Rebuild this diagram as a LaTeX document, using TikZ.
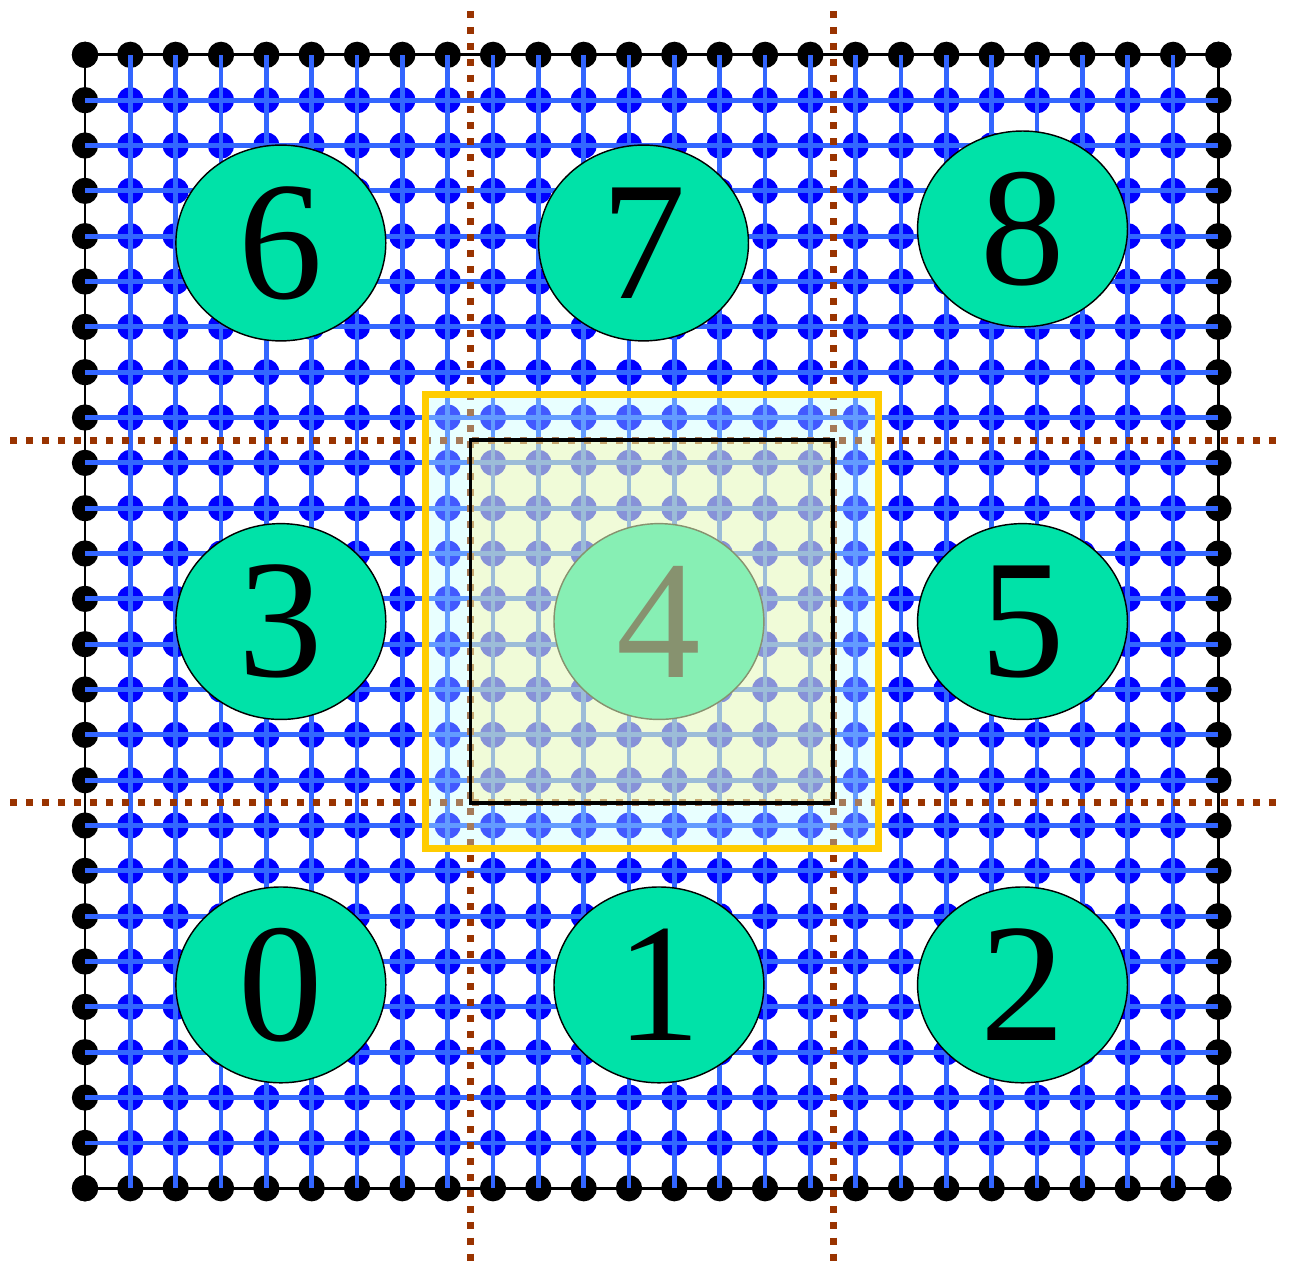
\documentclass[tikz,border=0pt]{standalone}
\usepackage{fontspec}
\setmainfont{Liberation Serif}
\newfontfamily\rankfont{Liberation Serif}
\usepackage{tikz}
\usetikzlibrary{shapes.geometric}
\definecolor{gridblue}{RGB}{51, 102, 255}
\definecolor{dotblue}{RGB}{0, 0, 255}
\definecolor{cutline}{RGB}{153, 51, 0}
\definecolor{rankfill}{RGB}{0, 226, 168}
\definecolor{halofill}{RGB}{190, 255, 255}
\definecolor{ownfill}{RGB}{255, 245, 150}
\definecolor{haloedge}{RGB}{255, 204, 0}

\begin{document}
\begin{tikzpicture}[
          gridline/.style={gridblue, line width=3pt},
          cut/.style={cutline, line width=4.4pt,
                      dash pattern=on 4.4pt off 5.6pt},
          rank/.style={ellipse, draw=black, line width=0.9pt,
                       fill=rankfill, inner sep=0pt,
                       minimum width=4.63cm, minimum height=4.32cm,
                       font=\rankfont\fontsize{106pt}{106pt}\selectfont},
      ]
      \useasboundingbox (-1.875, -1.69) rectangle (26.58, 26.21);
      \foreach \i in {0,...,25}
          \foreach \j in {0,...,25}
              \coordinate (p-\i-\j) at (\i, \j);
      \draw[line width=1.8pt] (p-0-0) rectangle (p-25-25);
      \foreach \i in {1,...,24}
          \foreach \j in {1,...,24}
              \fill[dotblue] (p-\i-\j) circle (0.29);
      \foreach \k in {0,...,25} {
          \fill (p-\k-0) circle (0.29);
          \fill (p-\k-25) circle (0.29);
          \fill (p-0-\k) circle (0.29);
          \fill (p-25-\k) circle (0.29);
      }
      \foreach \k in {1,...,24} {
          \draw[gridline] (p-\k-0) -- (p-\k-25);
          \draw[gridline] (p-0-\k) -- (p-25-\k);
      }
      \coordinate (v1a) at (8.5, 25.97);
      \coordinate (v1b) at (8.5, -1.75);
      \coordinate (v2a) at (16.5, 25.97);
      \coordinate (v2b) at (16.5, -1.75);
      \coordinate (h1a) at (-1.65, 16.5);
      \coordinate (h1b) at (26.35, 16.5);
      \coordinate (h2a) at (-1.65, 8.5);
      \coordinate (h2b) at (26.35, 8.5);
      \draw[cut] (v1a) -- (v1b);
      \draw[cut] (v2a) -- (v2b);
      \draw[cut] (h1a) -- (h1b);
      \draw[cut] (h2a) -- (h2b);
      \node[rank] (r0) at (4.32, 4.485) {0};
      \node[rank] (r1) at (12.66, 4.485) {1};
      \node[rank] (r2) at (20.68, 4.485) {2};
      \node[rank] (r3) at (4.32, 12.5) {3};
      \node[rank] (r4) at (12.66, 12.5) {4};
      \node[rank] (r5) at (20.68, 12.5) {5};
      \node[rank] (r6) at (4.32, 20.85) {6};
      \node[rank] (r7) at (12.32, 20.85) {7};
      \node[rank] (r8) at (20.68, 21.16) {8};
      \fill[halofill, opacity=0.35] (7.5, 7.5) rectangle (17.5, 17.5);
      \fill[ownfill, opacity=0.37] (8.5, 8.5) rectangle (16.5, 16.5);
      \draw[line width=2.2pt] (8.5, 8.5) rectangle (16.5, 16.5);
      \draw[haloedge, line width=4.4pt] (7.5, 7.5) rectangle (17.5, 17.5);
      \end{tikzpicture}
\end{document}
